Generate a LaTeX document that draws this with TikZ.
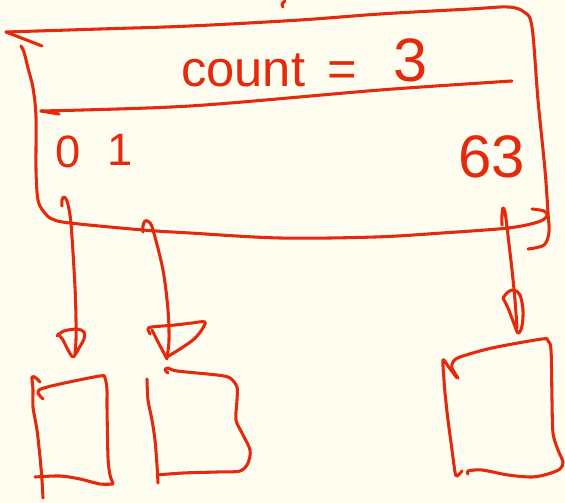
\documentclass[tikz,border=0pt]{standalone}
\usepackage{fontspec}
\setmainfont{Liberation Sans}
\definecolor{paper}{HTML}{FFFDF0}
\definecolor{ink}{HTML}{E4290C}
\tikzset{
  stroke/.style={draw=ink, line width=2.3pt, line cap=round, line join=round},
  hand/.style={text=ink, inner sep=0pt},
}
\begin{document}
\begin{tikzpicture}[x=0.75pt,y=-0.75pt]
\fill[paper] (0,0) rectangle (565,503);
\useasboundingbox (0,0) rectangle (565,503);

% stray mark at top
\draw[stroke] plot[smooth] coordinates {(285,1) (282,4) (283,7)};

% ---- main box ----
\draw[stroke] (42,46) -- (6,32);
\draw[stroke] plot[smooth, tension=0.55] coordinates {(6,32) (100,29) (190,26) (300,20) (380,14) (470,9) (508,7) (524,12) (532,27) (538,100) (545,170) (548,213) (549,232) (544,245) (528,249)};
\draw[stroke] plot[smooth, tension=0.55] coordinates {(23,50) (21,46) (24,52) (28,68) (33,88) (36,117) (36,170) (38,200) (44,212) (52,219) (70,223) (143,230) (190,233) (280,238) (375,237) (442,233) (508,228) (538,222) (547,216) (544,211) (532,209)};
% divider
\draw[stroke] (59,114) -- (41,111);
\draw[stroke] plot[smooth, tension=0.5] coordinates {(41,111) (190,106) (380,90) (512,81)};

% texts
\node[hand, anchor=base west] (title) at (181,87) {\fontsize{38}{38}\selectfont count\hspace{17pt}=\hspace{27pt}\raisebox{3.75pt}{\fontsize{46}{46}\selectfont 3}};
\node[hand, anchor=base] (i0) at (68,168) {\fontsize{34}{34}\selectfont 0};
\node[hand, anchor=base] (i1) at (120,166) {\fontsize{34}{34}\selectfont 1};
\node[hand, anchor=base] (i63) at (492,178) {\fontsize{45}{45}\selectfont 63};

% ---- arrow 1 ----
\coordinate (a1s) at (62,206);
\coordinate (a1e) at (75,354);
\draw[stroke] plot[smooth, tension=0.55] coordinates {(a1s) (62,200) (64,197) (67,201) (70,215) (72,237) (75,287) (76,320) (76,340) (a1e)};
\draw[stroke] plot[smooth, tension=0.5] coordinates {(57,336) (64,331) (77,329) (84,332) (84,339) (79,348) (73,357) (67,348) (63,340) (58,334)};

% ---- arrow 2 ----
\coordinate (a2s) at (143,232);
\coordinate (a2e) at (167,357);
\draw[stroke] plot[smooth, tension=0.55] coordinates {(a2s) (143,226) (145,221) (149,222) (153,230) (163,270) (168,310) (169,340) (a2e)};
\draw[stroke] plot[smooth, tension=0.5] coordinates {(150,334) (148,329) (152,327) (175,325) (192,323) (205,322) (201,331) (193,340) (180,349) (167,357)};
\draw[stroke] (167,359) -- (157,340) -- (152,330);

% ---- arrow 3 ----
\coordinate (a3s) at (502,225);
\coordinate (a3e) at (517,328);
\draw[stroke] plot[smooth, tension=0.55] coordinates {(a3s) (502,215) (503,208) (505,212) (507,227) (512,270) (515,300) (a3e)};
\draw[stroke] plot[smooth, tension=0.55] coordinates {(503,298) (508,292) (514,290) (520,295) (523,310) (522,326) (518,333) (513,321) (508,308) (503,298)};

% ---- box 1 ----
\draw[stroke] plot[smooth, tension=0.5] coordinates {(40,382) (36,378) (32,377) (33,390) (33,407) (37,430) (40,457) (42,480) (43,498)};
\draw[stroke] plot[smooth, tension=0.5] coordinates {(43,399) (38,393) (41,389) (60,384) (100,376) (105,378) (107,390) (107,407) (108,457) (110,475) (113,483)};
\draw[stroke] plot[smooth, tension=0.5] coordinates {(35,477) (60,476) (80,479) (100,484) (113,484)};

% ---- box 2 ----
\draw[stroke] plot[smooth, tension=0.5] coordinates {(147,379) (148,400) (152,420) (155,440) (157,465) (158,483)};
\draw[stroke] plot[smooth, tension=0.5] coordinates {(168,373) (165,370) (168,368) (177,371) (217,375) (230,378) (237,387) (237,400) (236,420) (242,433) (250,450) (248,463) (240,471) (217,472) (183,473) (157,475)};

% ---- box 3 ----
\draw[stroke] plot[smooth, tension=0.5] coordinates {(457,378) (448,366) (443,360) (444,380) (445,393) (448,420) (452,450) (455,472) (457,476) (462,471)};
\draw[stroke] plot[smooth, tension=0.5] coordinates {(458,378) (452,368) (453,362) (460,357) (492,348) (542,339) (548,341) (551,350) (552,400) (553,433) (558,450) (563,462) (560,469) (548,474) (532,477) (508,475) (482,470) (468,471) (468,474)};
\end{tikzpicture}
\end{document}
